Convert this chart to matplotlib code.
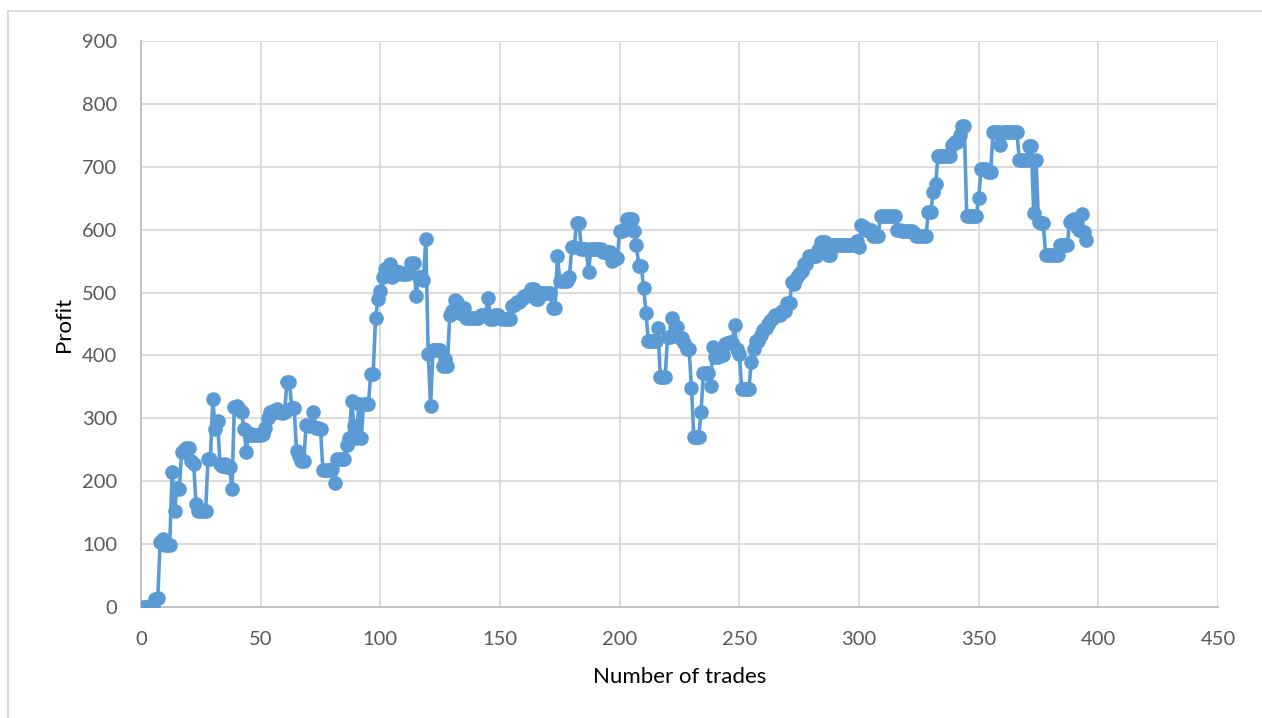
import matplotlib
matplotlib.use("Agg")
import matplotlib.pyplot as plt
from matplotlib.lines import Line2D

# cumulative profit after each trade
profit = [
    0, 0, 0, 0, 2, 13, 14, 103, 108, 98,
    98, 98, 215, 152, 190, 188, 247, 250, 253, 253,
    232, 228, 163, 152, 152, 152, 152, 236, 236, 330,
    283, 295, 228, 225, 228, 222, 222, 187, 318, 320,
    315, 310, 283, 247, 276, 273, 273, 273, 273, 273,
    275, 285, 300, 310, 308, 313, 315, 310, 308, 310,
    357, 357, 316, 316, 248, 240, 232, 232, 290, 288,
    290, 310, 285, 285, 283, 218, 218, 218, 218, 220,
    197, 235, 236, 236, 236, 258, 268, 328, 288, 268,
    323, 268, 323, 323, 323, 370, 370, 459, 490, 502,
    525, 538, 540, 545, 525, 535, 530, 533, 530, 530,
    530, 535, 547, 547, 495, 525, 525, 520, 585, 403,
    320, 408, 408, 408, 408, 383, 395, 383, 465, 470,
    488, 485, 468, 470, 475, 460, 460, 460, 460, 460,
    460, 465, 465, 465, 492, 458, 458, 465, 465, 460,
    458, 458, 458, 458, 478, 480, 485, 485, 490, 495,
    495, 500, 505, 505, 490, 490, 500, 500, 500, 500,
    500, 475, 475, 558, 518, 518, 518, 518, 525, 572,
    572, 610, 610, 570, 570, 570, 533, 570, 570, 570,
    570, 570, 565, 565, 565, 565, 550, 555, 555, 598,
    598, 600, 617, 617, 617, 598, 575, 543, 543, 508,
    468, 423, 423, 423, 423, 443, 365, 365, 365, 430,
    430, 460, 445, 445, 428, 428, 420, 410, 410, 348,
    270, 270, 270, 310, 372, 372, 372, 352, 413, 398,
    398, 400, 400, 418, 420, 422, 420, 448, 410, 403,
    347, 347, 347, 347, 390, 410, 423, 423, 432, 440,
    443, 450, 455, 460, 465, 465, 465, 470, 470, 483,
    483, 517, 513, 525, 530, 535, 545, 545, 558, 558,
    558, 558, 568, 580, 580, 580, 560, 560, 575, 575,
    575, 575, 575, 575, 575, 575, 575, 578, 582, 572,
    607, 605, 600, 600, 600, 590, 590, 590, 622, 622,
    622, 622, 622, 622, 622, 600, 600, 598, 598, 598,
    598, 598, 595, 590, 590, 590, 590, 590, 628, 628,
    660, 672, 717, 717, 717, 717, 717, 717, 735, 740,
    740, 750, 765, 765, 622, 622, 622, 622, 622, 650,
    697, 697, 697, 692, 692, 755, 755, 755, 735, 755,
    755, 755, 755, 755, 755, 755, 710, 710, 710, 710,
    733, 733, 627, 710, 612, 610, 610, 560, 560, 560,
    560, 560, 560, 575, 575, 575, 575, 612, 615, 617,
    605, 600, 625, 597, 583,
]
trades = list(range(1, len(profit) + 1))

x_ticks = list(range(0, 451, 50))
y_ticks = list(range(0, 901, 100))

blue = "#5B9BD5"
grid_grey = "#D9D9D9"
text_grey = "#595959"

plt.rcParams["font.family"] = ["Lato", "DejaVu Sans"]

fig = plt.figure(figsize=(12.62, 7.18), dpi=100)
ax = fig.add_axes([141 / 1262, 1 - 607 / 718, (1218 - 141) / 1262, (607 - 41) / 718])

ax.plot(trades, profit, color=blue, linewidth=2.6, marker="o",
        markersize=9.5, markerfacecolor=blue, markeredgecolor=blue,
        solid_joinstyle="round", zorder=3)

ax.set_xlim(0, 450)
ax.set_ylim(0, 900)
ax.set_xticks(x_ticks)
ax.set_yticks(y_ticks)
ax.grid(True, color=grid_grey, linewidth=1.3)
ax.set_axisbelow(True)
for side in ["top", "right"]:
    ax.spines[side].set_visible(False)
for side in ["left", "bottom"]:
    ax.spines[side].set_color("#BFBFBF")
    ax.spines[side].set_linewidth(1.3)
ax.tick_params(length=0, labelsize=14.5, labelcolor=text_grey)
ax.tick_params(axis="y", pad=17)
ax.tick_params(axis="x", pad=17)

ax.set_xlabel("Number of trades", fontsize=16, color="black", labelpad=14)
ax.set_ylabel("Profit", fontsize=16, color="black", labelpad=6)

# chart area border
fig.add_artist(Line2D([8 / 1262, 1], [1 - 11 / 718, 1 - 11 / 718],
                      transform=fig.transFigure, color=grid_grey, linewidth=1.3))
fig.add_artist(Line2D([8 / 1262, 8 / 1262], [0, 1 - 11 / 718],
                      transform=fig.transFigure, color=grid_grey, linewidth=1.3))

fig.savefig("out.png", dpi=100)
